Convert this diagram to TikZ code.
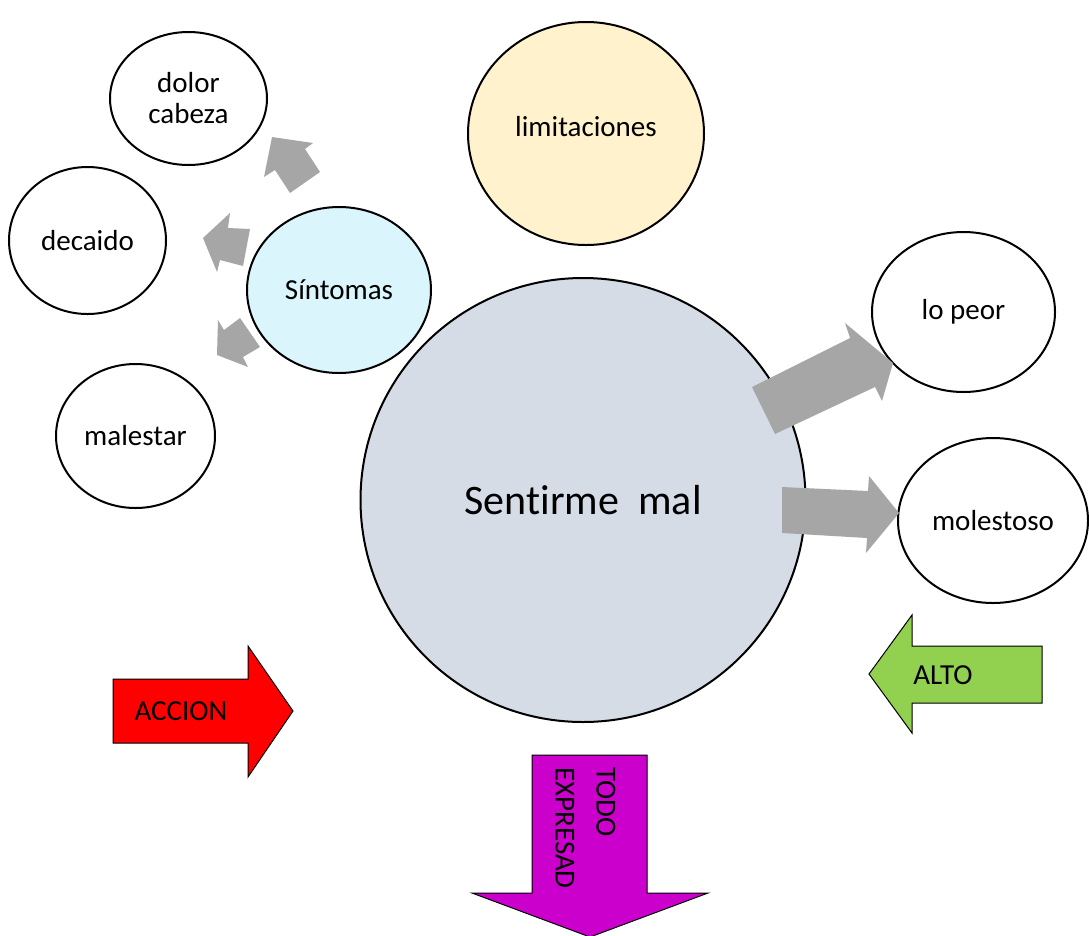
\documentclass[tikz,border=0pt]{standalone}
\usepackage{fontspec}
\setmainfont{Carlito}[Ligatures={NoCommon,NoContextual}]
\usetikzlibrary{shapes.geometric}
\definecolor{arrgray}{RGB}{166,166,166}
\definecolor{mainfill}{RGB}{214,220,229}
\definecolor{sinfill}{RGB}{218,245,251}
\definecolor{limfill}{RGB}{255,242,204}
\definecolor{accred}{RGB}{255,0,0}
\definecolor{altogreen}{RGB}{146,208,80}
\definecolor{todomag}{RGB}{204,0,204}
\begin{document}
\begin{tikzpicture}[x=1pt,y=-1pt,
  bubble/.style={ellipse, draw=black, line width=2pt, fill=white, inner sep=0pt,
    align=center, font=\fontsize{29}{31}\selectfont},
  grayarrow/.style={fill=arrgray, draw=none},
  blockarrow/.style={draw=black, line width=1pt},
  arrowtext/.style={font=\fontsize{29}{35}\selectfont, inner sep=0pt}]
\useasboundingbox[fill=white] (0,0) rectangle (1089,935);

% bubbles
\node[bubble, fill=limfill, minimum width=236pt, minimum height=223pt, text depth=14pt]
  (lim) at (586,133.5) {limi\kern0pt tacio\kern0pt nes};
\node[bubble, fill=sinfill, minimum width=184pt, minimum height=166pt]
  (sin) at (339,290) {Síntomas};
\node[bubble, fill=mainfill, minimum width=445pt, minimum height=444pt,
  font=\fontsize{42}{48}\selectfont]
  (main) at (583,500) {Sen\kern0pt tirme~~mal};
\node[bubble, minimum width=157pt, minimum height=133pt] (dolor) at (188.5,98.5) {dolor\\cabeza};
\node[bubble, minimum width=157pt, minimum height=147pt] (dec) at (87.5,240.5) {decaido};
\node[bubble, minimum width=159pt, minimum height=144pt] (mal) at (135.5,436) {malestar};
\node[bubble, minimum width=183pt, minimum height=160pt] (peor) at (963.5,312) {lo peor};
\node[bubble, minimum width=190pt, minimum height=165pt] (mol) at (993,520.5) {molestoso};

% gray arrows around Sintomas
\fill[grayarrow] (272,137) -- (313,143) -- (305,149) -- (320,172) -- (290,193) -- (275,170) -- (264,177) -- cycle;
\fill[grayarrow] (203,238) -- (230,213) -- (228,228) -- (250,229) -- (243,266) -- (220,260) -- (217,272) -- cycle;
\fill[grayarrow] (218,320) -- (224,330) -- (240,318) -- (260,347) -- (243,357) -- (248,367) -- (217,355) -- cycle;

% gray arrows from main
\fill[grayarrow] (752,387) -- (850,338) -- (845,323) -- (893,363) -- (882,401) -- (875,387) -- (775,434) -- cycle;
\fill[grayarrow] (782,487) -- (868,491) -- (869,476) -- (899,513) -- (866,553) -- (867,538) -- (782,533) -- cycle;

% block arrows
\filldraw[blockarrow, fill=accred] (113,679) -- (248,679) -- (248,646) -- (293,711) -- (248,777) -- (248,743) -- (113,743) -- cycle;
\node[arrowtext] (accion) at (181,711) {ACCION};

\filldraw[blockarrow, fill=altogreen] (869,674) -- (912,615) -- (912,646) -- (1042,646) -- (1042,703) -- (912,703) -- (912,733) -- cycle;
\node[arrowtext] (alto) at (943,675) {ALTO};

\filldraw[blockarrow, fill=todomag] (532,755) -- (647,755) -- (647,893) -- (708,893) -- (590,937) -- (472,893) -- (532,893) -- cycle;
\node[arrowtext, rotate=-90, anchor=west, align=left] (todo) at (585.5,767) {TODO\\[6pt]EXPRESAD};
\end{tikzpicture}
\end{document}
